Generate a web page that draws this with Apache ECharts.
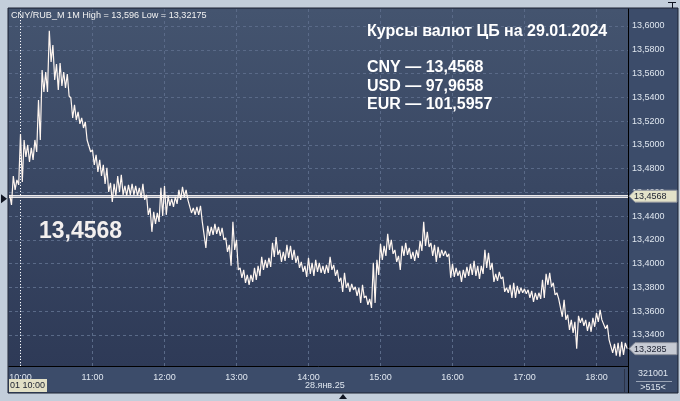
<!DOCTYPE html>
<html><head><meta charset="utf-8">
<script src="https://cdn.jsdelivr.net/npm/echarts@6/dist/echarts.min.js"></script>
<style>html,body{margin:0;padding:0;background:#c3cedb;}#c{width:680px;height:401px;}</style>
</head><body><div id="c"></div>
<script>
// ---- data ----
const startMinute = -9;      // minutes relative to 10:00
const stepMinutes = 3;
const highs = [
 13.4579,13.4738,13.4705,13.5092,13.5041,13.4999,13.4974,13.5041,13.5378,13.5630,
 13.5613,13.5960,13.5840,13.5680,13.5689,13.5613,13.5596,13.5394,13.5336,13.5277,
 13.5226,13.5193,13.5041,13.4957,13.4915,13.4873,13.4831,13.4806,13.4680,13.4671,
 13.4738,13.4747,13.4654,13.4663,13.4671,13.4654,13.4638,13.4671,13.4579,13.4469,
 13.4436,13.4427,13.4638,13.4654,13.4570,13.4545,13.4562,13.4621,13.4646,13.4621,
 13.4537,13.4469,13.4478,13.4486,13.4352,13.4318,13.4310,13.4335,13.4310,13.4301,
 13.4217,13.4158,13.4352,13.4200,13.3965,13.3948,13.3906,13.3906,13.3965,13.3982,
 13.4057,13.4032,13.4049,13.4175,13.4225,13.4116,13.4099,13.4158,13.4150,13.4116,
 13.4066,13.4015,13.3982,13.4049,13.4007,13.4032,13.4007,13.3982,13.3990,13.4057,
 13.3990,13.3948,13.3881,13.3923,13.3839,13.3830,13.3805,13.3797,13.3822,13.3729,
 13.3704,13.4007,13.4032,13.4167,13.4150,13.4251,13.4200,13.4116,13.4066,13.4150,
 13.4175,13.4133,13.4099,13.4116,13.4192,13.4352,13.4268,13.4175,13.4158,13.4141,
 13.4116,13.4108,13.4083,13.3998,13.3965,13.3940,13.3948,13.3973,13.3998,13.4024,
 13.3982,13.3982,13.4116,13.4091,13.4007,13.3914,13.3931,13.3889,13.3797,13.3822,
 13.3839,13.3813,13.3797,13.3788,13.3780,13.3771,13.3755,13.3755,13.3864,13.3914,
 13.3923,13.3839,13.3755,13.3712,13.3696,13.3570,13.3527,13.3511,13.3561,13.3544,
 13.3527,13.3511,13.3544,13.3586,13.3612,13.3527,13.3485,13.3359,13.3326,13.3334,
 13.3342,13.3334
];
const lows = [
 13.4495,13.4621,13.4663,13.4688,13.4898,13.4856,13.4873,13.4940,13.5041,13.5445,
 13.5445,13.5697,13.5546,13.5462,13.5495,13.5479,13.5411,13.5226,13.5209,13.5176,
 13.5142,13.5041,13.4940,13.4831,13.4772,13.4738,13.4671,13.4604,13.4520,13.4570,
 13.4604,13.4579,13.4570,13.4579,13.4579,13.4570,13.4553,13.4537,13.4411,13.4268,
 13.4335,13.4352,13.4402,13.4411,13.4486,13.4478,13.4503,13.4537,13.4562,13.4537,
 13.4427,13.4411,13.4411,13.4352,13.4133,13.4234,13.4242,13.4251,13.4234,13.4200,
 13.4099,13.3982,13.4116,13.3948,13.3881,13.3839,13.3822,13.3847,13.3864,13.3897,
 13.3948,13.3965,13.3973,13.4057,13.4074,13.4015,13.4024,13.4049,13.4032,13.4007,
 13.3965,13.3931,13.3889,13.3914,13.3897,13.3931,13.3923,13.3914,13.3923,13.3948,
 13.3897,13.3847,13.3763,13.3797,13.3763,13.3780,13.3729,13.3670,13.3712,13.3654,
 13.3628,13.3670,13.3906,13.4032,13.4066,13.4116,13.4083,13.4015,13.3948,13.4066,
 13.4074,13.4040,13.4024,13.4049,13.4108,13.4150,13.4141,13.4066,13.4015,13.4049,
 13.4066,13.4057,13.3881,13.3889,13.3897,13.3847,13.3881,13.3897,13.3906,13.3897,
 13.3872,13.3914,13.3965,13.3948,13.3847,13.3855,13.3872,13.3763,13.3755,13.3712,
 13.3712,13.3746,13.3755,13.3746,13.3712,13.3679,13.3696,13.3704,13.3712,13.3822,
 13.3805,13.3738,13.3704,13.3553,13.3527,13.3443,13.3418,13.3284,13.3502,13.3477,
 13.3435,13.3427,13.3469,13.3511,13.3527,13.3452,13.3359,13.3250,13.3225,13.32175,
 13.3233,13.3285
];
const hourTicks = [0, 60, 120, 180, 240, 300, 360, 420, 480];
const hourLabels = ['10:00','11:00','12:00','13:00','14:00','15:00','16:00','17:00','18:00'];
const priceTicks = [13.34,13.36,13.38,13.40,13.42,13.44,13.46,13.48,13.50,13.52,13.54,13.56,13.58,13.60];
const cbRate = 13.4568;
const lastClose = 13.3285;
const headerText = 'CNY/RUB_M 1M High = 13,596 Low = 13,32175';
const noteTitle = 'Курсы валют ЦБ на 29.01.2024';
const noteLines = ['CNY — 13,4568', 'USD — 97,9658', 'EUR — 101,5957'];
const bigText = '13,4568';
const dateText = '28.янв.25';
const cursorText = '01 10:00';
const infoTop = '321001';
const infoBottom = '>515<';

// ---- chart ----
const FONT = '"Liberation Sans", Arial, sans-serif';
const fmt = v => v.toFixed(4).replace('.', ',');
const pts = [];
highs.forEach((h, i) => {
  const t = startMinute + i * stepMinutes;
  pts.push([t, h]);
  pts.push([t + 1.5, lows[i]]);
});

const chart = echarts.init(document.getElementById('c'), null, {renderer: 'canvas'});
const option = {
  animation: false,
  backgroundColor: '#c3cedb',
  grid: {left: 9, top: 9, width: 619, height: 357, containLabel: false},
  xAxis: {
    type: 'value', min: -9.58, max: 506.25,
    axisLine: {show: true, onZero: false, lineStyle: {color: '#000', width: 1}},
    axisTick: {show: false, customValues: hourTicks},
    axisLabel: {customValues: hourTicks, formatter: v => hourLabels[hourTicks.indexOf(v)],
      color: '#dfe6ef', fontSize: 9, margin: 7, fontFamily: FONT},
    splitLine: {show: true, lineStyle: {color: '#5a6a88', type: [3, 3], width: 1}}
  },
  yAxis: {
    type: 'value', position: 'right', min: 13.3139, max: 13.6143, scale: true,
    axisLine: {show: true, onZero: false, lineStyle: {color: '#000', width: 1}},
    axisTick: {show: false, customValues: priceTicks},
    axisLabel: {customValues: priceTicks, formatter: v => fmt(v),
      color: '#dfe6ef', fontSize: 9, margin: 4, fontFamily: FONT},
    splitLine: {show: true, lineStyle: {color: '#5a6a88', type: [3, 3], width: 1}}
  },
  series: [
    {
      type: 'line', data: pts, symbol: 'none', z: 5,
      lineStyle: {color: '#fff6f0', width: 1.2},
      markLine: {
        symbol: 'none', silent: true, precision: 4, label: {show: false},
        data: [
          {xAxis: 0, lineStyle: {color: '#ffffff', type: [1, 2], width: 1}},
          {yAxis: cbRate, lineStyle: {color: '#ece9ea', type: 'solid', width: 3}}
        ]
      }
    },
    {
      type: 'line', data: [], z: 6,
      markLine: {
        symbol: 'none', silent: true, precision: 4, label: {show: false},
        data: [{yAxis: cbRate, lineStyle: {color: '#9ea5b6', type: 'solid', width: 1}}]
      }
    }
  ]
};
chart.setOption(option);

const yCb = chart.convertToPixel({yAxisIndex: 0}, cbRate);
const yLast = chart.convertToPixel({yAxisIndex: 0}, lastClose);
function tag(y, fill, text) {
  return [
    {type: 'polygon', z: 20, shape: {points: [[629, y], [635, y - 6], [677, y - 6], [677, y + 6], [635, y + 6]]},
      style: {fill: fill, stroke: '#8a8f9a', lineWidth: 1}},
    {type: 'text', z: 21, style: {x: 634, y: y + 0.5, text: text, font: '9px ' + FONT, fill: '#1b2030', verticalAlign: 'middle'}}
  ];
}
const g = [
  {type: 'rect', z: -3, shape: {x: 8, y: 8, width: 670, height: 385}, style: {fill: '#3c4c6a', stroke: '#1c2232', lineWidth: 1}},
  {type: 'rect', z: -2, shape: {x: 9, y: 9, width: 619, height: 357},
    style: {fill: new echarts.graphic.LinearGradient(0, 0, 0, 1, [{offset: 0, color: '#44546f'}, {offset: 1, color: '#2e3a57'}])}},
  {type: 'line', z: 3, shape: {x1: 628.5, y1: 9, x2: 628.5, y2: 393}, style: {stroke: '#000', lineWidth: 1}},
  {type: 'line', z: 3, shape: {x1: 624.5, y1: 369, x2: 624.5, y2: 392}, style: {stroke: '#2a3247', lineWidth: 1}},
  {type: 'text', z: 10, style: {x: 11, y: 15, text: headerText, font: '9.1px ' + FONT, fill: '#f2f2f2', verticalAlign: 'middle'}},
  {type: 'text', z: 10, style: {x: 367, y: 32, text: noteTitle, font: 'bold 16px ' + FONT, fill: '#ffffff', verticalAlign: 'middle'}},
  {type: 'text', z: 10, style: {x: 367, y: 68, text: noteLines[0], font: 'bold 16px ' + FONT, fill: '#ffffff', verticalAlign: 'middle'}},
  {type: 'text', z: 10, style: {x: 367, y: 87, text: noteLines[1], font: 'bold 16px ' + FONT, fill: '#ffffff', verticalAlign: 'middle'}},
  {type: 'text', z: 10, style: {x: 367, y: 105, text: noteLines[2], font: 'bold 16px ' + FONT, fill: '#ffffff', verticalAlign: 'middle'}},
  {type: 'text', z: 10, style: {x: 39, y: 232, text: bigText, font: 'bold 23px ' + FONT, fill: '#f3efee', verticalAlign: 'middle'}},
  {type: 'rect', z: 10, shape: {x: 9, y: 379, width: 38, height: 13}, style: {fill: '#e2e0c6'}},
  {type: 'text', z: 11, style: {x: 10, y: 386, text: cursorText, font: '9px ' + FONT, fill: '#1b2030', verticalAlign: 'middle'}},
  {type: 'text', z: 10, style: {x: 305, y: 386, text: dateText, font: '9px ' + FONT, fill: '#dfe6ef', verticalAlign: 'middle'}},
  {type: 'text', z: 10, style: {x: 653, y: 374, text: infoTop, font: '9px ' + FONT, fill: '#dfe6ef', align: 'center', verticalAlign: 'middle'}},
  {type: 'line', z: 10, shape: {x1: 636, y1: 381.5, x2: 672, y2: 381.5}, style: {stroke: '#9aa4b6', lineWidth: 1}},
  {type: 'text', z: 10, style: {x: 653, y: 387.5, text: infoBottom, font: '9px ' + FONT, fill: '#dfe6ef', align: 'center', verticalAlign: 'middle'}},
  {type: 'polygon', z: 10, shape: {points: [[1, yCb - 2], [7, yCb + 2.5], [1, yCb + 7]]}, style: {fill: '#101522'}},
  {type: 'polygon', z: 10, shape: {points: [[339, 399], [343, 394], [347, 399]]}, style: {fill: '#101522'}},
  {type: 'line', z: 10, shape: {x1: 668, y1: 2.5, x2: 676, y2: 2.5}, style: {stroke: '#101522', lineWidth: 1}},
  {type: 'line', z: 10, shape: {x1: 672.5, y1: 2, x2: 672.5, y2: 8}, style: {stroke: '#101522', lineWidth: 1}}
].concat(tag(yCb, '#e3e2c9', fmt(cbRate)), tag(yLast, '#c7cbd4', fmt(lastClose)));
chart.setOption({graphic: g});
</script>
</body></html>
